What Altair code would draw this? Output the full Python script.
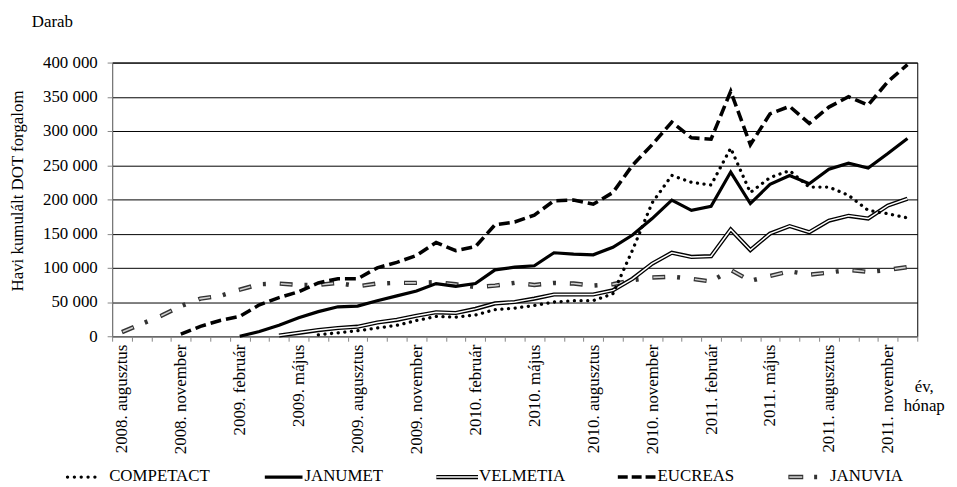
import json
import altair as alt
import pandas as pd

FONT = "Liberation Serif"

# ---- data -------------------------------------------------------------
months = [
    "2008. augusztus", "2008. szeptember", "2008. október", "2008. november", "2008. december",
    "2009. január", "2009. február", "2009. március", "2009. április", "2009. május",
    "2009. június", "2009. július", "2009. augusztus", "2009. szeptember", "2009. október",
    "2009. november", "2009. december", "2010. január", "2010. február", "2010. március",
    "2010. április", "2010. május", "2010. június", "2010. július", "2010. augusztus",
    "2010. szeptember", "2010. október", "2010. november", "2010. december", "2011. január",
    "2011. február", "2011. március", "2011. április", "2011. május", "2011. június",
    "2011. július", "2011. augusztus", "2011. szeptember", "2011. október", "2011. november",
    "2011. december",
]

competact = [None] * 10 + [
    2000, 5000, 8000, 12000, 16000, 23000, 29000, 28000, 31000, 39000,
    41000, 45000, 50000, 52000, 52000, 62000, 126000, 195000, 235000, 225000,
    221000, 275000, 210000, 232000, 242000, 218000, 218000, 206000, 184000, 179000,
    173000,
]
janumet = [None] * 6 + [
    0, 7000, 16000, 27000, 36000, 43000, 44000, 52000, 59000, 66000,
    77000, 73000, 77000, 97000, 101000, 103000, 122000, 120000, 119000, 130000,
    148000, 172000, 199000, 184000, 190000, 240000, 194000, 222000, 235000, 223000,
    244000, 253000, 246000, 267000, 289000,
]
velmetia = [None] * 8 + [
    1000, 5000, 9000, 12000, 14000, 20000, 24000, 30000, 35000, 34000,
    40000, 48000, 50000, 55000, 61000, 61000, 61000, 67000, 84000, 106000,
    122000, 116000, 117000, 156000, 126000, 150000, 161000, 152000, 169000, 176000,
    172000, 191000, 201000,
]
eucreas = [None] * 3 + [
    3000, 14500, 23000, 29000, 46000, 56500, 65000, 78000, 84000, 84000,
    100000, 108000, 118000, 137000, 125000, 131000, 163000, 167000, 177000, 198000,
    199000, 193000, 210000, 250000, 280000, 313000, 290000, 288000, 358000, 280000,
    325000, 336000, 311000, 335000, 350000, 338000, 372000, 397000,
]
januvia = [
    6000, 18000, 30000, 44000, 55000, 59000, 68000, 76000, 77000, 75000,
    75000, 78000, 73000, 77000, 78000, 78000, 79000, 76000, 72000, 74000,
    78000, 75000, 78000, 77000, 74000, 76000, 82000, 86000, 87000, 84000,
    80000, 97000, 81000, 88000, 95000, 90000, 93000, 97000, 94000, 97000,
    101000,
]

series = {
    "COMPETACT": competact,
    "JANUMET": janumet,
    "VELMETIA": velmetia,
    "EUCREAS": eucreas,
    "JANUVIA": januvia,
}

rows = []
for name, vals in series.items():
    for i, v in enumerate(vals):
        if v is not None:
            rows.append({"series": name, "idx": i + 0.5, "value": v})
df = pd.DataFrame(rows)

n = len(months)
shown = [m if i % 3 == 0 else "" for i, m in enumerate(months)]
label_js = json.dumps(shown, ensure_ascii=False)

# ---- scales / axes ----------------------------------------------------
x_values = list(range(n + 1)) + [i + 0.5 for i in range(0, n, 3)]
x_axis = alt.Axis(
    values=x_values,
    title=None,
    grid=False,
    labelExpr=f"datum.value % 1 == 0 ? '' : {label_js}[floor(datum.value)]",
    labelAngle=270,
    labelAlign="right",
    labelBaseline="middle",
    labelPadding=3,
    labelOverlap=False,
    labelFont=FONT,
    labelFontSize=17,
    labelColor="black",
    tickSize=5,
    tickColor="#868686",
    tickOpacity={"condition": {"test": "datum.value % 1 == 0", "value": 1}, "value": 0},
    domainColor="#868686",
)
y_axis = alt.Axis(
    values=list(range(0, 400001, 50000)),
    labelExpr="datum.value == 0 ? '0' : format(datum.value / 1000, 'd') + ' 000'",
    grid=True,
    gridColor="black",
    gridWidth=1,
    gridOpacity=1,
    tickSize=5,
    tickColor="#868686",
    labelPadding=10,
    labelFont=FONT,
    labelFontSize=17,
    labelColor="black",
    domainColor="#868686",
    title="Havi kumulált DOT forgalom",
    titleFont=FONT,
    titleFontSize=17,
    titleFontWeight="normal",
    titleColor="black",
    titleAngle=270,
    titleX=-95,
    titleY=129,
    titleAlign="center",
    titleBaseline="middle",
)

X = alt.X("idx:Q", scale=alt.Scale(domain=[0, n], nice=False, zero=False), axis=x_axis)
Y = alt.Y("value:Q", scale=alt.Scale(domain=[0, 400000], nice=False), axis=y_axis)

base = alt.Chart(df).encode(x=X, y=Y)


def sel(name):
    return base.transform_filter(alt.datum.series == name)


lines = [
    sel("JANUVIA").mark_line(color="#333333", strokeWidth=4.5, strokeDash=[13, 12, 3, 14]),
    sel("JANUVIA").mark_line(color="#d0d0d0", strokeWidth=1.6, strokeDash=[0, 1, 11, 30]),
    sel("VELMETIA").mark_line(color="black", strokeWidth=4.2),
    sel("VELMETIA").mark_line(color="white", strokeWidth=1.5),
    sel("COMPETACT").mark_line(color="black", strokeWidth=3.3, strokeDash=[0.1, 6.6], strokeCap="round"),
    sel("JANUMET").mark_line(color="black", strokeWidth=3.2),
    sel("EUCREAS").mark_line(color="black", strokeWidth=3.6, strokeDash=[11, 5]),
]

# ---- legend and free texts (pixel layout relative to plot origin) ------
one = pd.DataFrame({"k": [0]})
LY = 418


def rule(x0, x1, **kw):
    return alt.Chart(one).mark_rule(**kw).encode(
        x=alt.value(x0), x2=alt.value(x1), y=alt.value(LY)
    )


def text(s, x, y, align="left"):
    return alt.Chart(one).mark_text(
        align=align, baseline="middle", font=FONT, fontSize=17, color="black"
    ).encode(x=alt.value(x), y=alt.value(y), text=alt.value(s))


legend = [
    rule(-45, -11, color="black", strokeWidth=3.3, strokeDash=[0.1, 6.8], strokeCap="round"),
    text("COMPETACT", -3, LY - 1),
    rule(154, 192, color="black", strokeWidth=3.2),
    text("JANUMET", 194, LY - 1),
    rule(327, 369, color="black", strokeWidth=4.2),
    rule(327, 369, color="white", strokeWidth=1.5),
    text("VELMETIA", 370, LY - 1),
    rule(510, 549, color="black", strokeWidth=3.6, strokeDash=[10, 4]),
    text("EUCREAS", 550, LY - 1),
    rule(682, 712, color="#333333", strokeWidth=4.5, strokeDash=[15, 11, 3, 20]),
    rule(683, 696, color="#d0d0d0", strokeWidth=1.6),
    text("JANUVIA", 724, LY - 1),
    text("Darab", -81, -41),
    text("év,", 819, 327, align="center"),
    text("hónap", 819, 346, align="center"),
]

chart = alt.layer(*lines, *legend).properties(
    width=812,
    height=276,
    padding={"left": 105, "top": 53, "right": 32, "bottom": 150},
    autosize=alt.AutoSizeParams(type="none"),
    background="white",
).configure_view(stroke="black", strokeWidth=1)

chart.save("out.html", embed_options={"renderer": "svg", "actions": False})
